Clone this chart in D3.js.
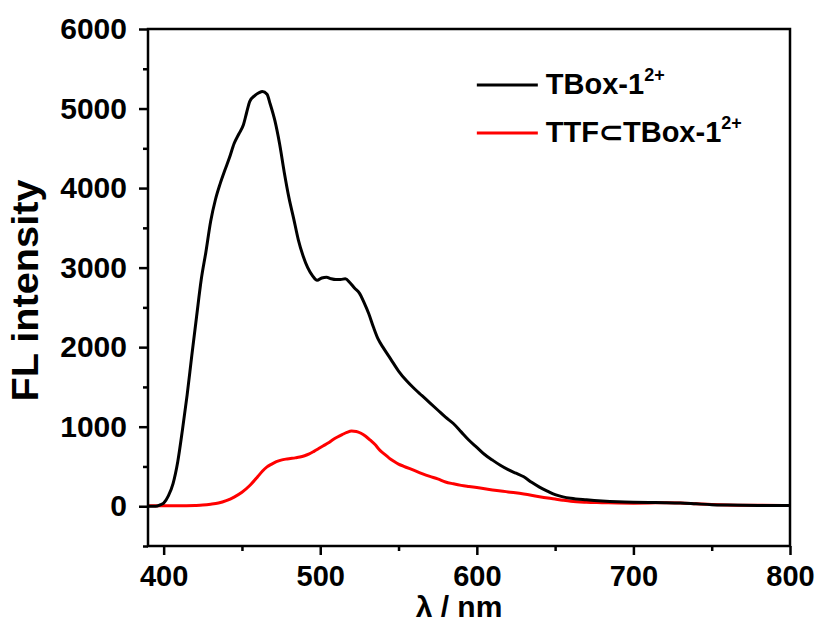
<!DOCTYPE html>
<html>
<head>
<meta charset="utf-8">
<script src="https://cdn.jsdelivr.net/npm/d3@7"></script>
<style>
  body { margin: 0; background: #fff; }
  text { font-family: "Liberation Sans", Arial, sans-serif; font-weight: bold; }
</style>
</head>
<body>
<div id="chart-area"></div>
<script>
// wavelength (nm) and FL intensity
const wlFree = [390, 395, 398, 400, 403, 406, 409, 412, 415, 418, 421, 424, 427, 430, 433, 436, 439, 442, 445, 448, 451, 453, 455, 458, 461, 463, 466, 468, 471, 474, 477, 480, 483, 486, 489, 492, 495, 498, 501, 504, 507, 510, 513, 516, 519, 522, 525, 528, 531, 534, 537, 540, 545, 550, 555, 560, 565, 570, 575, 580, 585, 590, 595, 600, 605, 610, 615, 620, 625, 630, 635, 640, 645, 650, 655, 660, 670, 680, 690, 700, 710, 720, 730, 740, 750, 760, 780, 800];
const flFree = [0, 0, 20, 40, 130, 285, 560, 960, 1400, 1900, 2380, 2850, 3200, 3580, 3850, 4050, 4220, 4380, 4560, 4680, 4800, 4950, 5090, 5160, 5200, 5215, 5180, 5060, 4850, 4560, 4200, 3880, 3620, 3350, 3150, 3000, 2900, 2840, 2870, 2880, 2860, 2850, 2850, 2860, 2810, 2740, 2680, 2560, 2420, 2250, 2100, 2000, 1850, 1700, 1580, 1480, 1390, 1300, 1210, 1120, 1040, 935, 830, 740, 650, 580, 515, 460, 415, 370, 300, 240, 190, 145, 118, 100, 80, 65, 55, 50, 48, 45, 40, 30, 20, 15, 10, 8];

const wlTTF = [390, 400, 410, 420, 425, 430, 435, 440, 445, 450, 455, 460, 463, 466, 469, 472, 475, 478, 481, 484, 487, 490, 493, 496, 499, 502, 505, 508, 511, 514, 517, 520, 523, 526, 529, 532, 535, 538, 541, 544, 547, 550, 553, 560, 565, 570, 575, 580, 585, 590, 595, 600, 610, 620, 630, 640, 650, 655, 660, 670, 680, 690, 700, 710, 720, 730, 740, 750, 760, 780, 800];
const flTTF = [5, 5, 5, 10, 15, 25, 40, 70, 115, 175, 260, 370, 440, 495, 530, 560, 580, 592, 600, 608, 618, 635, 658, 690, 725, 760, 795, 835, 870, 900, 928, 945, 940, 918, 880, 830, 775, 705, 655, 605, 565, 530, 505, 450, 410, 375, 345, 305, 282, 262, 248, 235, 205, 180, 155, 120, 90, 75, 62, 50, 45, 40, 38, 40, 45, 42, 32, 22, 16, 12, 10];

const seriesNames = ['TBox-1', 'TTF\u2282TBox-1'];
const seriesColors = ['#000000', '#ff0000'];
const xTicks = [400, 500, 600, 700, 800];
const yTicks = [0, 1000, 2000, 3000, 4000, 5000, 6000];

const margin = { top: 29, right: 30, bottom: 84, left: 148 };
const width = 820 - margin.left - margin.right;
const height = 630 - margin.top - margin.bottom;

const svg = d3.select('#chart-area').append('svg')
  .attr('width', 820)
  .attr('height', 630);

const g = svg.append('g')
  .attr('transform', `translate(${margin.left}, ${margin.top})`);

const x = d3.scaleLinear().domain([390, 800]).range([0, width]);
const y = d3.scaleLinear().domain([-500, 6000]).range([height, 0]);

// clip for curves
svg.append('defs').append('clipPath').attr('id', 'clip')
  .append('rect').attr('width', width).attr('height', height);

const line = d3.line()
  .x(d => x(d[0]))
  .y(d => y(d[1]))
  .curve(d3.curveMonotoneX);

const curves = g.append('g').attr('clip-path', 'url(#clip)');
[[wlTTF, flTTF, 1], [wlFree, flFree, 0]].forEach(([wl, fl, i]) => {
  curves.append('path')
    .datum(wl.map((w, k) => [w, fl[k]]))
    .attr('fill', 'none')
    .attr('stroke', seriesColors[i])
    .attr('stroke-width', 3)
    .attr('stroke-linejoin', 'round')
    .attr('d', line);
});

// minor ticks
const xMinor = d3.axisBottom(x).tickValues(d3.range(450, 800, 100)).tickSize(5).tickFormat('');
const yMinor = d3.axisLeft(y).tickValues(d3.range(-500, 6000, 1000)).tickSize(5).tickFormat('');

g.append('g').attr('transform', `translate(0, ${height})`).call(xMinor);
g.append('g').call(yMinor);

// major axes
const xAxisGroup = g.append('g')
  .attr('transform', `translate(0, ${height})`)
  .call(d3.axisBottom(x).tickValues(xTicks).tickSize(9).tickPadding(10).tickSizeOuter(0).tickFormat(d => d));

const yAxisGroup = g.append('g')
  .call(d3.axisLeft(y).tickValues(yTicks).tickSize(9).tickPadding(12).tickSizeOuter(0).tickFormat(d => d));

g.selectAll('.domain').remove();
g.selectAll('.tick line').attr('stroke', '#000').attr('stroke-width', 2.5);
g.selectAll('.tick text')
  .attr('font-size', '30px')
  .attr('font-family', '"Liberation Sans", Arial, sans-serif')
  .attr('font-weight', 'bold')
  .attr('fill', '#000');
xAxisGroup.selectAll('.tick text').attr('font-size', '29px');

// frame
g.append('rect')
  .attr('width', width)
  .attr('height', height)
  .attr('fill', 'none')
  .attr('stroke', '#000')
  .attr('stroke-width', 2.5);

// axis titles
g.append('text')
  .attr('x', width / 2 - 10)
  .attr('y', height + 71)
  .attr('font-size', '30px')
  .attr('text-anchor', 'middle')
  .text('\u03bb / nm');

g.append('text')
  .attr('x', -(height / 2 + 3))
  .attr('y', -110)
  .attr('font-size', '36px')
  .attr('text-anchor', 'middle')
  .attr('textLength', 222)
  .attr('lengthAdjust', 'spacingAndGlyphs')
  .attr('transform', 'rotate(-90)')
  .text('FL intensity');

// legend
const legend = g.append('g').attr('transform', `translate(${x(600)}, 0)`);
seriesNames.forEach((name, i) => {
  const row = legend.append('g').attr('transform', `translate(0, ${56 + i * 48})`);
  row.append('line')
    .attr('x1', 0).attr('x2', 61)
    .attr('stroke', seriesColors[i])
    .attr('stroke-width', 3);
  const t = row.append('text')
    .attr('x', 69)
    .attr('y', 9)
    .attr('font-size', '29px');
  t.append('tspan').text(name);
  t.append('tspan')
    .attr('font-size', '18px')
    .attr('dy', -13)
    .text('2+');
});
</script>
</body>
</html>
